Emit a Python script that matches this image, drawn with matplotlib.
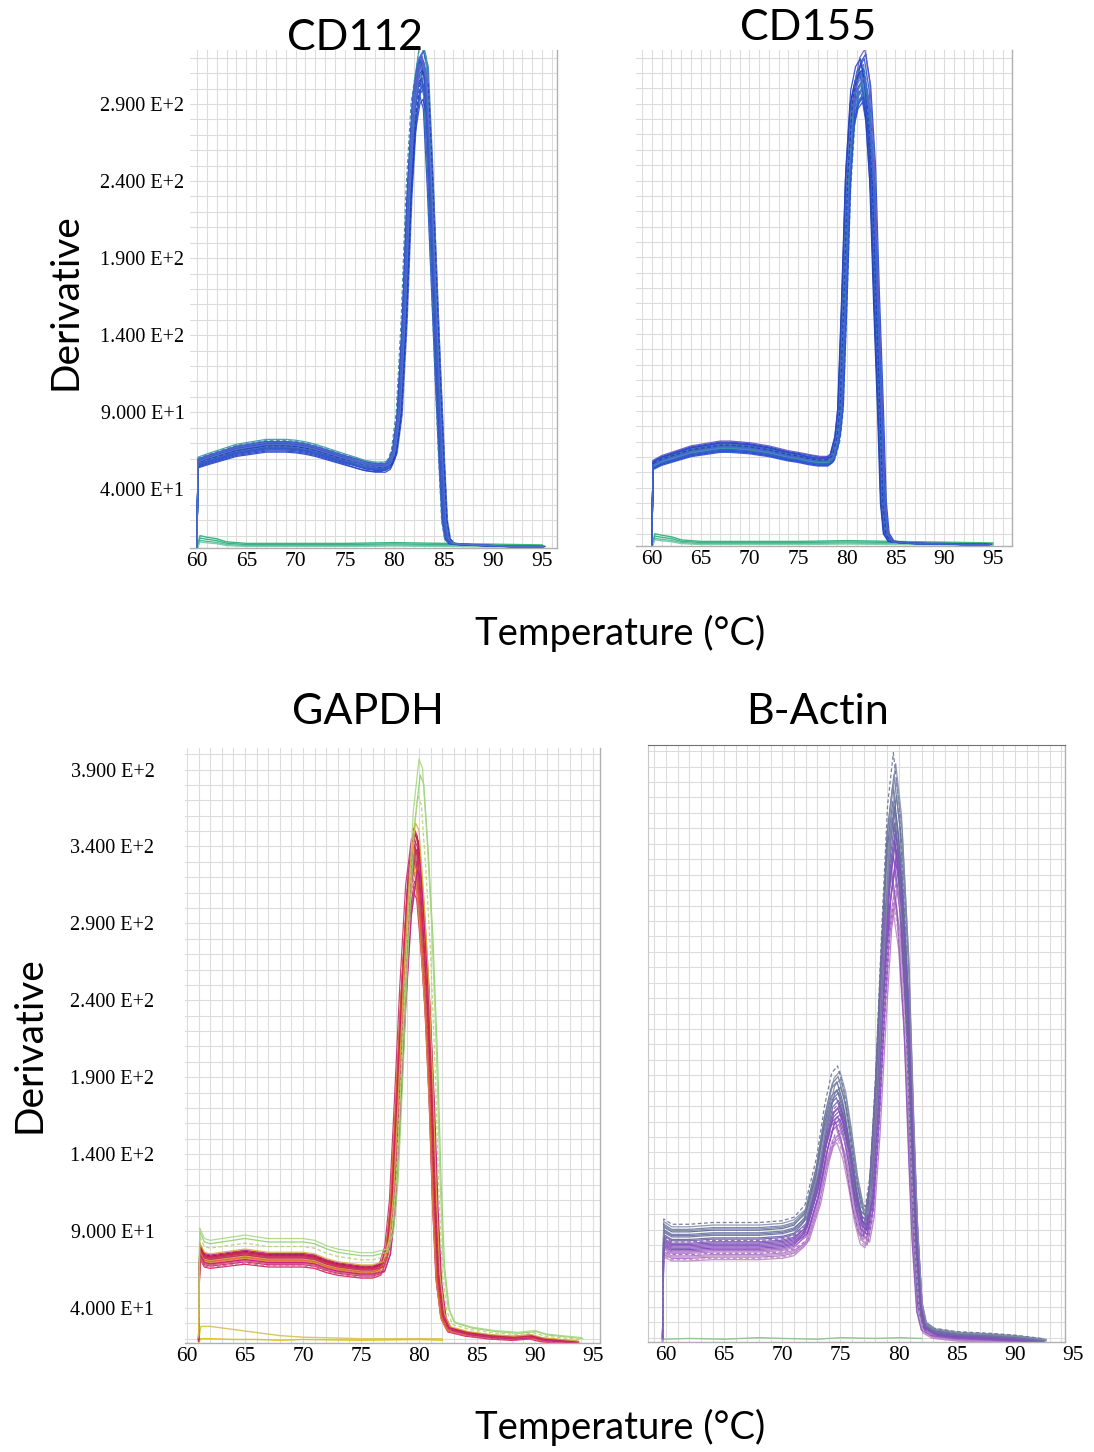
import matplotlib
matplotlib.use("Agg")
import matplotlib.pyplot as plt
import numpy as np

plt.rcParams['font.family'] = ['Lato', 'DejaVu Sans']

# ---- data ----
# CD112 (mean curve)
t_cd112 = [60.0, 60.1, 61, 62, 63, 64, 65, 66, 67, 68, 69, 70, 71, 72, 73, 74, 75, 76, 77, 78, 79,
           79.5, 80, 80.5, 81, 81.5, 82, 82.5, 82.8, 83.2, 83.6, 84.0, 84.4, 84.8, 85.1, 85.4, 85.8,
           86.5, 88, 90, 92, 95]
d_cd112 = [3, 58, 60, 62, 64, 66, 67, 68, 69, 69, 69, 68.5, 67.5, 66, 64, 62, 60, 58, 56, 55, 55,
           57, 65, 90, 150, 235, 290, 312, 315, 305, 250, 185, 120, 60, 20, 8, 5,
           4.5, 4, 3.5, 3, 3]
scales_cd112 = [0.94, 0.96, 0.97, 0.98, 0.99, 1.00, 1.00, 1.01, 1.02, 1.03, 1.04, 0.95, 0.97, 0.99,
                1.01, 1.03, 0.98, 1.00, 1.02, 0.96, 0.98, 1.05, 0.93, 1.01, 0.99, 1.02, 0.97, 1.00]
shifts_cd112 = [-0.25, 0.10, -0.05, 0.20, 0.00, -0.15, 0.05, 0.15, -0.10, 0.25, 0.00, 0.10, -0.20, 0.05,
                -0.05, 0.15, 0.30, -0.30, 0.00, 0.20, -0.10, 0.05, 0.10, -0.15, 0.25, -0.05, 0.00, 0.10]
# CD155 (mean curve)
t_cd155 = [60.0, 60.1, 61, 62, 63, 64, 65, 66, 67, 68, 69, 70, 71, 72, 73, 74, 75, 76, 77, 78,
           78.5, 79.0, 79.3, 79.7, 80.1, 80.6, 81.1, 81.6, 82.1, 82.6, 83.0, 83.4, 83.7, 84.0, 84.5,
           86, 88, 90, 92, 94.5]
d_cd155 = [3, 55, 58, 60, 62, 64, 65, 66, 67, 67, 66.5, 66, 65, 64, 62.5, 61, 60, 58.5, 57.5, 57.5,
           60, 72, 90, 160, 240, 290, 305, 310, 290, 240, 160, 90, 30, 10, 5,
           4, 3.5, 3.5, 3, 3]
scales_cd155 = [0.95, 0.97, 0.98, 0.99, 1.00, 1.00, 1.01, 1.02, 1.03, 0.96, 0.98, 1.04, 0.94, 1.00,
                1.01, 0.97, 0.99, 1.02, 1.05, 0.96, 1.00, 0.98, 1.03, 0.95, 1.01, 0.99]
shifts_cd155 = [0.00, 0.15, -0.10, 0.25, -0.20, 0.05, 0.10, -0.05, 0.20, -0.15, 0.30, 0.35, 0.05, -0.25,
                0.15, 0.00, -0.10, 0.10, 0.25, 0.20, -0.05, 0.05, -0.20, 0.10, 0.00, 0.15]
# no-template controls, top row
t_ntc_top = [60.0, 60.3, 61, 62, 63, 65, 70, 75, 80, 85, 90, 95]
d_ntc_top = [2, 10, 9, 8, 6, 5, 5, 5, 5.5, 5, 4.5, 4]
scales_ntc_top = [1.0, 0.7, 0.85, 0.6]

# GAPDH (mean curve)
t_gapdh = [61.0, 61.1, 61.5, 62, 63, 64, 65, 66, 67, 68, 69, 70, 71, 72, 73, 74, 75, 76, 76.7, 77.2,
           77.6, 78.0, 78.5, 79.0, 79.5, 79.8, 80.2, 80.6, 81.0, 81.3, 81.6, 82.0, 82.5, 84, 86, 88,
           89.5, 90.5, 92, 93.5]
d_gapdh = [20, 80, 74, 73, 74, 75, 76, 75, 74, 74, 74, 74, 73, 70, 68, 67, 66, 66, 68, 80,
           110, 170, 250, 315, 345, 340, 300, 250, 180, 110, 60, 35, 27, 24, 22, 21,
           22, 20, 19, 18]
scales_gapdh = [0.90, 0.92, 0.94, 0.95, 0.96, 0.97, 0.98, 0.99, 1.00, 1.00, 1.01, 1.02, 0.93, 0.95,
                0.97, 0.99, 1.01, 0.91, 0.96, 0.98, 1.00, 0.94, 1.12, 1.15, 1.08, 1.03]
shifts_gapdh = [0.00, 0.10, -0.10, 0.20, 0.05, -0.05, 0.15, 0.00, 0.25, -0.15, 0.10, 0.05, 0.30, -0.10,
                0.20, 0.00, 0.15, 0.10, -0.05, 0.25, 0.05, 0.35, 0.60, 0.50, 0.40, 0.20]
t_ntc_gapdh = [61.0, 61.2, 62, 64, 66, 68, 70, 75, 80, 82]
d_ntc_gapdh_a = [19, 28, 28, 26, 24, 22, 21, 20, 20, 20]
d_ntc_gapdh_b = [18, 20, 20, 19.5, 19.5, 19, 19.5, 19, 19.5, 19]

# B-Actin (mean curve)
t_bact = [59.7, 59.8, 60.5, 62, 64, 66, 68, 70, 71, 72, 73, 73.7, 74.3, 74.8, 75.3, 75.8, 76.3, 76.8,
          77.2, 77.6, 78.1, 78.6, 79.1, 79.6, 80.1, 80.7, 81.1, 81.4, 81.8, 82.2, 83, 85, 88, 90, 92.5]
d_bact = [20, 85, 82, 82, 83, 83, 83, 84, 86, 93, 120, 150, 168, 172, 160, 138, 112, 95,
          92, 110, 170, 250, 320, 350, 320, 240, 150, 90, 40, 27, 23, 21, 20, 19, 17]
scales_bact = [0.85, 0.87, 0.88, 0.90, 0.91, 0.92, 0.94, 0.95, 0.96, 0.98, 1.00, 1.02, 1.04, 1.06,
               1.08, 1.10, 1.12, 1.14, 0.89, 0.93, 0.97, 1.01, 1.05, 1.09, 0.86, 0.99]
shifts_bact = [-0.10, 0.10, 0.00, 0.20, -0.20, 0.05, 0.15, -0.05, 0.25, 0.00, 0.10, -0.15, 0.05, 0.20,
               -0.10, 0.00, 0.15, -0.05, 0.30, -0.25, 0.10, 0.05, -0.10, 0.20, 0.00, 0.15]
t_ntc_bact = [59.8, 62, 65, 68, 70, 73, 75, 78, 80, 82]
d_ntc_bact = [19, 19.5, 19, 20, 19.5, 19, 20, 19.5, 20, 19.5]

# colours (one per trace where the order matters)
cols_blue = ["#2546c8", "#3050d0", "#1e3fb8", "#4a68d6", "#3a5cc0", "#5a6fd0", "#2f7fb0",
             "#6656c8", "#2a58d8", "#4470c0", "#3a9aa8"]
cols_ntc_top = ["#3cb878", "#50c0a0", "#40b090", "#7fcfa8"]
cols_gapdh = ["#d0204a", "#c02080", "#e0506a", "#e08040", "#d8c050", "#c83060", "#b01850",
              "#d86090", "#e06030", "#c8306a", "#d0204a", "#c02080", "#e0506a", "#e09040",
              "#d8b850", "#c83060", "#b01850", "#d86090", "#e06030", "#c8306a", "#d0204a",
              "#c02080", "#8fd070", "#a8d880", "#b8d070", "#d8b040"]
cols_bact = ["#c088c8", "#b070c8", "#c090c8", "#a060d0", "#b080c0", "#a868c8", "#8040c0",
             "#7a58b8", "#9050c8", "#8048b8", "#7a68b0", "#7060a8", "#6a70a0", "#6878a8",
             "#5f6898", "#7080a0", "#8890b0", "#6a7098", "#b078c8", "#9058c0", "#8050b8",
             "#7060a8", "#6a70a0", "#8088a8", "#c090c8", "#7a58b8"]

# axis labels
xtick_vals = [60, 65, 70, 75, 80, 85, 90, 95]
ytick_top = [40, 90, 140, 190, 240, 290]
ylab_top = ["4.000 E+1", "9.000 E+1", "1.400 E+2", "1.900 E+2", "2.400 E+2", "2.900 E+2"]
ytick_bot = [40, 90, 140, 190, 240, 290, 340, 390]
ylab_bot = ["4.000 E+1", "9.000 E+1", "1.400 E+2", "1.900 E+2", "2.400 E+2", "2.900 E+2",
            "3.400 E+2", "3.900 E+2"]

W, H = 1094, 1452
fig = plt.figure(figsize=(W / 100, H / 100), dpi=100)


def box(l, r, t, b):
    return [l / W, 1 - b / H, (r - l) / W, (b - t) / H]


def setup(ax, xlim, ylim, yt=None, yl=None, ypad=4):
    ax.set_xticks(xtick_vals)
    ax.set_xticks(np.arange(59, 97, 1), minor=True)
    ax.set_xticklabels([str(v) for v in xtick_vals], family='Liberation Serif', fontsize=15.5)
    ax.set_yticks(np.arange(0, 410, 10), minor=True)
    if yt is not None:
        ax.set_yticks(yt)
        ax.set_yticklabels(yl, family='Liberation Serif', fontsize=14.5)
    else:
        ax.set_yticks(ytick_bot)
        ax.set_yticklabels([])
    ax.set_xlim(*xlim)
    ax.set_ylim(*ylim)
    ax.grid(True, which='both', color='#dcdcdc', lw=0.8)
    ax.set_axisbelow(True)
    ax.tick_params(which='both', length=0)
    ax.tick_params(axis='y', pad=ypad)
    ax.tick_params(axis='x', pad=3)
    for s in ['left', 'top']:
        ax.spines[s].set_visible(False)
    for s in ['right', 'bottom']:
        ax.spines[s].set_color('#b0b0b0')
        ax.spines[s].set_linewidth(1.0)


def draw_traces(ax, t, d, scales, shifts, cols, t_melt, dashed_every=7):
    t = np.array(t)
    d = np.array(d)
    for i, (sc, sh) in enumerate(zip(scales, shifts)):
        x = np.where(t >= t_melt, t + sh, t)
        ls = (0, (3, 2)) if i % dashed_every == 3 else '-'
        ax.plot(x, d * sc, color=cols[i % len(cols)], lw=0.9, ls=ls, alpha=0.9)


# CD112
ax1 = fig.add_axes(box(190, 557, 50, 548))
setup(ax1, (59.29, 96.5), (2, 325), ytick_top, ylab_top)
for i, sc in enumerate(scales_ntc_top):
    ax1.plot(t_ntc_top, np.array(d_ntc_top) * sc, color=cols_ntc_top[i], lw=1.0)
draw_traces(ax1, t_cd112, d_cd112, scales_cd112, shifts_cd112, cols_blue, 76)

# CD155
ax2 = fig.add_axes(box(636, 1012, 50, 546))
setup(ax2, (58.36, 96.96), (2, 325))
for i, sc in enumerate(scales_ntc_top):
    ax2.plot(t_ntc_top, np.array(d_ntc_top) * sc, color=cols_ntc_top[i], lw=1.0)
draw_traces(ax2, t_cd155, d_cd155, scales_cd155, shifts_cd155, cols_blue, 76)

# GAPDH
ax3 = fig.add_axes(box(185, 600, 748, 1343))
setup(ax3, (59.83, 95.6), (17.2, 404), ytick_bot, ylab_bot, ypad=22)
ax3.plot(t_ntc_gapdh, d_ntc_gapdh_a, color='#d8c860', lw=1.0)
ax3.plot(t_ntc_gapdh, d_ntc_gapdh_b, color='#e0c020', lw=1.0)
draw_traces(ax3, t_gapdh, d_gapdh, scales_gapdh, shifts_gapdh, cols_gapdh, 76.5)

# B-Actin
ax4 = fig.add_axes(box(648, 1065, 745, 1342))
setup(ax4, (58.45, 94.31), (17.2, 404))
ax4.spines['top'].set_visible(True)
ax4.spines['top'].set_color('#707070')
ax4.spines['left'].set_visible(True)
ax4.spines['left'].set_color('#c8c8c8')
ax4.plot(t_ntc_bact, d_ntc_bact, color='#90c890', lw=1.0)
draw_traces(ax4, t_bact, d_bact, scales_bact, shifts_bact, cols_bact, 71.5)
ax4.text(95, -0.007, "95", transform=ax4.get_xaxis_transform(), ha='center', va='top',
         family='Liberation Serif', fontsize=15.5, clip_on=False)

# titles and axis labels
fig.text(355 / W, 1 - 38 / H, "CD112", ha='center', va='center', fontsize=31)
fig.text(808 / W, 1 - 28 / H, "CD155", ha='center', va='center', fontsize=31)
fig.text(368 / W, 1 - 712 / H, "GAPDH", ha='center', va='center', fontsize=31)
fig.text(818 / W, 1 - 712 / H, "B-Actin", ha='center', va='center', fontsize=31)
fig.text(65 / W, 1 - 302 / H, "Derivative", ha='center', va='center', rotation=90, fontsize=28)
fig.text(30 / W, 1 - 1045 / H, "Derivative", ha='center', va='center', rotation=90, fontsize=28)
fig.text(620 / W, 1 - 633 / H, "Temperature (°C)", ha='center', va='center', fontsize=27.5)
fig.text(620 / W, 1 - 1427 / H, "Temperature (°C)", ha='center', va='center', fontsize=27.5)

fig.savefig("out.png", dpi=100)
